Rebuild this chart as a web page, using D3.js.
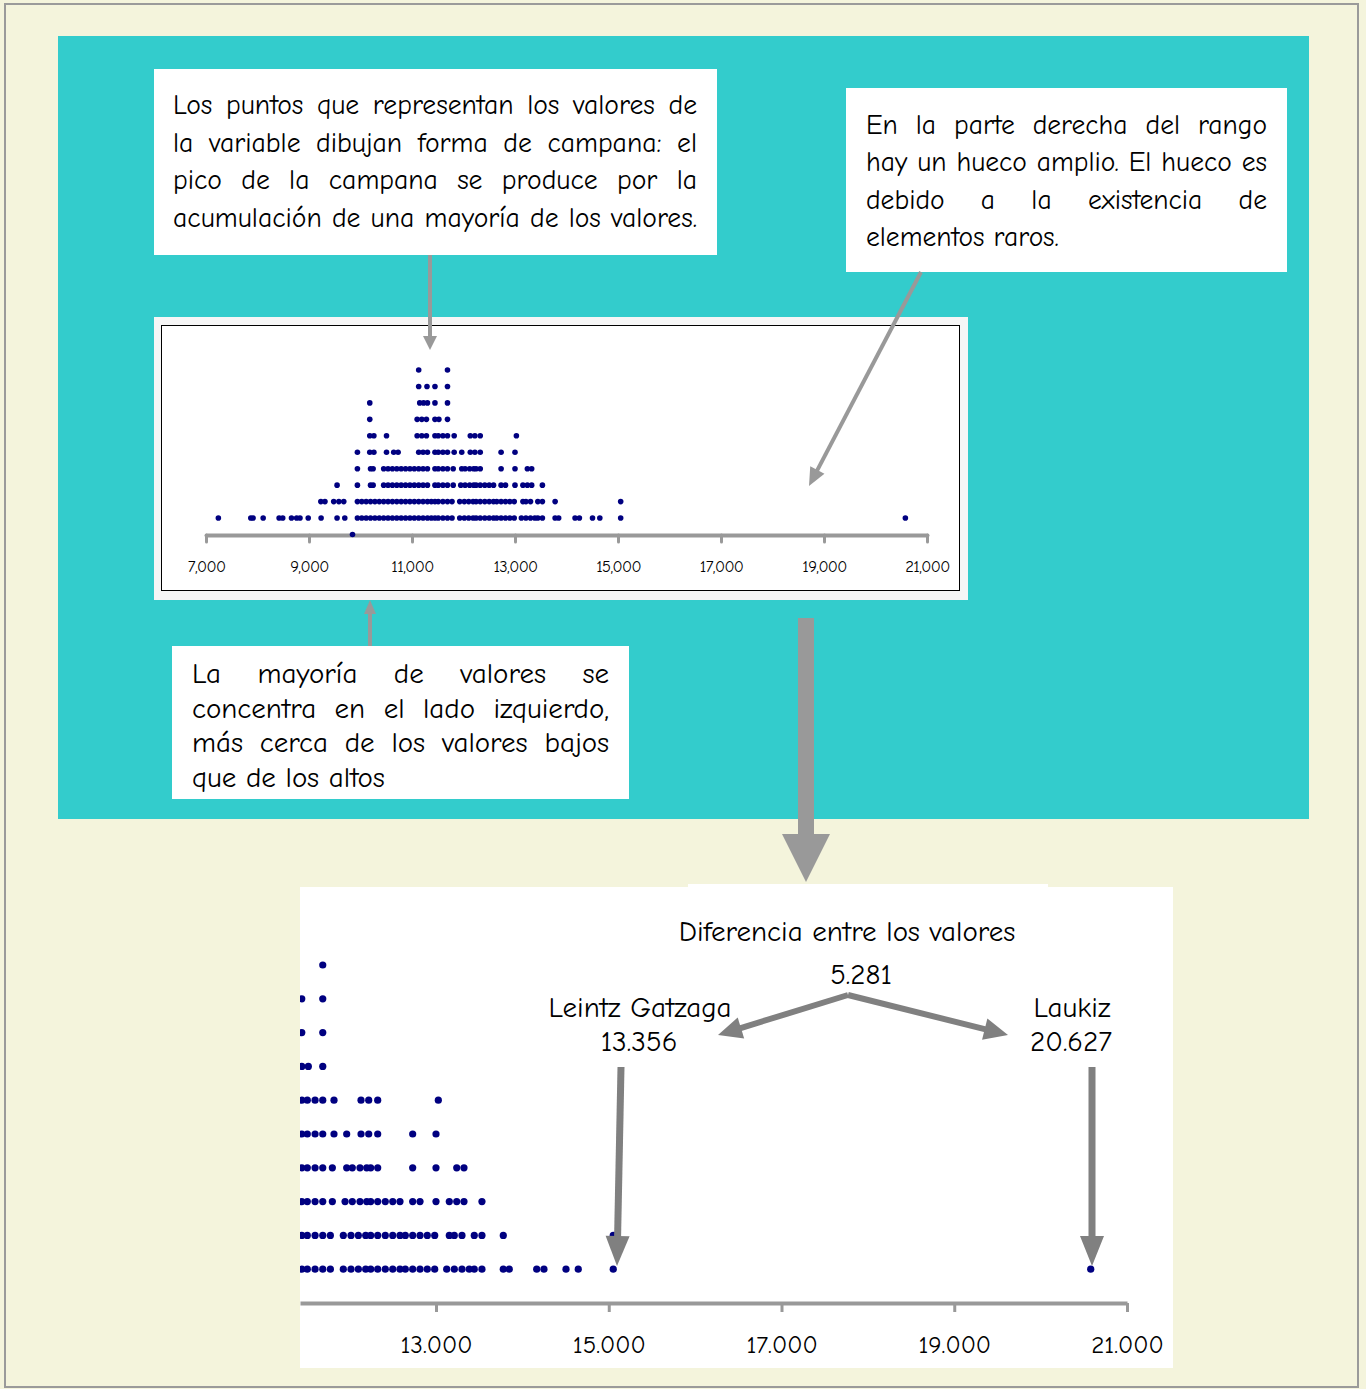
<!DOCTYPE html>
<html><head><meta charset="utf-8">
<script src="https://cdn.jsdelivr.net/npm/d3@7"></script>
<style>
html,body{margin:0;padding:0;background:#F4F4DC;}
svg{display:block;}
</style></head><body>
<svg id="c" width="1366" height="1389"></svg>
<script>
// ---------------- DATA ----------------
// Dot plot: each array holds the values of the dots stacked at that level (level 0 = on the axis)
const row0 = [9845];
const row1 = [7240, 7870, 7915, 8110, 8420, 8490, 8660, 8760, 8825, 8985, 9235, 9545, 9695,
  9940, 10025, 10110, 10195, 10280, 10365, 10450, 10535, 10620, 10705, 10790, 10875, 10960, 11045, 11130, 11215, 11300, 11375,
  11446, 11510, 11600, 11689, 11777, 11927, 12016, 12101, 12186, 12244, 12325, 12413, 12499, 12583, 12645, 12730, 12815, 12899, 12985,
  13124, 13212, 13301, 13385, 13443, 13532, 13779, 13848, 14166, 14250, 14505, 14647, 15052, 20580];
const row2 = [9230, 9310, 9480, 9580, 9675,
  9940, 10025, 10110, 10195, 10280, 10365, 10450, 10535, 10620, 10705, 10790, 10875, 10960, 11045, 11130, 11215, 11300, 11375,
  11446, 11510, 11600, 11689, 11777, 11927, 12016, 12101, 12186, 12244, 12325, 12413, 12499, 12583, 12645, 12730, 12815, 12899, 12985,
  13154, 13212, 13301, 13443, 13532, 13779, 15052];
const row3 = [9545, 9940, 10195, 10245, 10450, 10535, 10620, 10705, 10790, 10875, 10960, 11045, 11130, 11215, 11300,
  11446, 11510, 11600, 11689, 11800, 11947, 12031, 12120, 12198, 12244, 12325, 12413, 12499, 12583, 12730, 12815, 13000,
  13154, 13240, 13324, 13532];
const row4 = [9940, 10195, 10245, 10450, 10535, 10620, 10705, 10790, 10875, 10960, 11045, 11130, 11215, 11300,
  11446, 11510, 11600, 11689, 11800, 11966, 12031, 12120, 12198, 12244, 12325, 12730, 13000, 13240, 13324];
const row5 = [9940, 10180, 10260, 10505, 10645, 10730, 11130, 11215, 11300,
  11446, 11510, 11600, 11689, 11819, 11966, 12132, 12221, 12325, 12730, 13000];
const row6 = [10180, 10260, 10505, 11100, 11190, 11280, 11446, 11510, 11600, 11689, 11819, 12132, 12221, 12325, 13027];
const row7 = [10180, 11100, 11190, 11280, 11446, 11522, 11689];
const row8 = [10180, 11150, 11225, 11300, 11446, 11689];
const row9 = [11130, 11291, 11446, 11689];
const row10 = [11130, 11689];

const topTicks = [7000, 9000, 11000, 13000, 15000, 17000, 19000, 21000];
const bottomTicks = [13000, 15000, 17000, 19000, 21000];

const noteBell = ["Los puntos que representan los valores de",
  "la variable dibujan forma de campana: el",
  "pico de la campana se produce por la",
  "acumulación de una mayoría de los valores."];
const noteGap = ["En la parte derecha del rango",
  "hay un hueco amplio. El hueco es",
  "debido a la existencia de",
  "elementos raros."];
const noteLeft = ["La mayoría de valores se",
  "concentra en el lado izquierdo,",
  "más cerca de los valores bajos",
  "que de los altos"];
const diffTitle = "Diferencia entre los valores";
const diffValue = "5.281";
const minName = "Leintz Gatzaga", minValue = "13.356";
const maxName = "Laukiz", maxValue = "20.627";

// ---------------- DRAW ----------------
const FONT = '"Comic Sans MS","Comic Neue","Open Sans",sans-serif';
const svg = d3.select("#c");
const stackRows = [row0, row1, row2, row3, row4, row5, row6, row7, row8, row9, row10];
const dots = stackRows.flatMap((r, lvl) => r.map(v => ({v, lvl})));

// page background and frame
svg.append("rect").attr("x", 0).attr("y", 0).attr("width", 1366).attr("height", 1389).attr("fill", "#F4F4DC");
svg.append("rect").attr("x", 5).attr("y", 4).attr("width", 1353).attr("height", 1383)
  .attr("fill", "none").attr("stroke", "#9a9a9a").attr("stroke-width", 2);
// teal panel
svg.append("rect").attr("x", 58).attr("y", 36).attr("width", 1251).attr("height", 783).attr("fill", "#33CCCC");

// note boxes
const boxes = [
  {x: 154, y: 69, w: 563, h: 186},
  {x: 846, y: 88, w: 441, h: 184},
  {x: 172, y: 646, w: 457, h: 153}
];
boxes.forEach(b => svg.append("rect").attr("x", b.x).attr("y", b.y).attr("width", b.w).attr("height", b.h).attr("fill", "#fff"));

// top chart frame
svg.append("rect").attr("x", 154).attr("y", 317).attr("width", 814).attr("height", 283).attr("fill", "#f6f6f6");
svg.append("rect").attr("x", 161.5).attr("y", 325.5).attr("width", 798).attr("height", 265)
  .attr("fill", "#fff").attr("stroke", "#000").attr("stroke-width", 1);

// bottom white panel
svg.append("rect").attr("x", 300).attr("y", 887).attr("width", 873).attr("height", 481).attr("fill", "#fff");
svg.append("rect").attr("x", 688).attr("y", 884).attr("width", 360).attr("height", 60).attr("fill", "#fff");

// ---- top dot plot ----
const xTop = d3.scaleLinear().domain([7000, 21000]).range([206, 927]);
const yTop = d3.scaleLinear().domain([0, 10]).range([534.5, 370]);
const axTop = svg.append("g").attr("transform", "translate(0,535)")
  .call(d3.axisBottom(xTop).tickValues(topTicks).tickFormat(d3.format(","))
    .tickSize(7).tickSizeOuter(0).tickPadding(18));
axTop.attr("font-family", FONT);
axTop.select(".domain").attr("stroke", "#999").attr("stroke-width", 4).attr("stroke-linecap", "round");
axTop.selectAll(".tick line").attr("stroke", "#999").attr("stroke-width", 3).attr("stroke-linecap", "round");
axTop.selectAll(".tick text").attr("font-size", 16.5).attr("fill", "#000").attr("letter-spacing", -0.6);

svg.append("g").selectAll("circle").data(dots).join("circle")
  .attr("cx", d => xTop(d.v)).attr("cy", d => yTop(d.lvl)).attr("r", 2.8).attr("fill", "#000080");

// ---- bottom zoomed dot plot ----
const xBot0 = d3.scaleLinear().domain([13000, 21000]).range([436, 1127]);
const xBot = d3.scaleLinear().domain([xBot0.invert(300), 21000]).range([300, 1127]);
const yBot = d3.scaleLinear().domain([0, 10]).range([1303, 965]);
svg.append("clipPath").attr("id", "botClip").append("rect")
  .attr("x", 300).attr("y", 887).attr("width", 873).attr("height", 481);
const gBot = svg.append("g").attr("clip-path", "url(#botClip)");
const dotLocale = d3.formatLocale({decimal: ",", thousands: ".", grouping: [3], currency: ["", ""]});
const axBot = gBot.append("g").attr("transform", "translate(0,1303)")
  .call(d3.axisBottom(xBot).tickValues(bottomTicks).tickFormat(dotLocale.format(","))
    .tickSize(9).tickSizeOuter(0).tickPadding(23));
axBot.attr("font-family", FONT);
axBot.select(".domain").attr("stroke", "#999").attr("stroke-width", 4);
axBot.selectAll(".tick line").attr("stroke", "#999").attr("stroke-width", 3);
axBot.selectAll(".tick text").attr("font-size", 25).attr("fill", "#000");

gBot.append("g").selectAll("circle").data(dots).join("circle")
  .attr("cx", d => xBot(d.v)).attr("cy", d => yBot(d.lvl)).attr("r", 3.6).attr("fill", "#000080");

// ---- arrows ----
function arrow(x1, y1, x2, y2, w, headLen, headHalf, color) {
  const dx = x2 - x1, dy = y2 - y1, L = Math.hypot(dx, dy), ux = dx / L, uy = dy / L;
  const bx = x2 - ux * headLen, by = y2 - uy * headLen;
  svg.append("line").attr("x1", x1).attr("y1", y1).attr("x2", bx + ux * 2).attr("y2", by + uy * 2)
    .attr("stroke", color).attr("stroke-width", w);
  svg.append("polygon").attr("points",
    [[x2, y2], [bx - uy * headHalf, by + ux * headHalf], [bx + uy * headHalf, by - ux * headHalf]].map(p => p.join(",")).join(" "))
    .attr("fill", color);
}
arrow(430, 255, 430, 350, 4, 14, 7, "#999");
arrow(921, 272, 809, 486, 4, 18, 8, "#999");
arrow(370, 646, 370, 600, 4, 14, 6, "#999");
arrow(806, 618, 806, 882, 16, 48, 24, "#999");
arrow(848, 995, 718, 1035, 6, 24, 11, "#808080");
arrow(848, 995, 1008, 1035, 6, 24, 11, "#808080");
arrow(621, 1067, 617, 1266, 7, 30, 12, "#808080");
arrow(1092, 1067, 1092, 1266, 7, 30, 12, "#808080");

// ---- texts ----
const tmp = svg.append("text").attr("x", -2000).attr("y", -2000).attr("font-family", FONT);
function measure(str, size) { tmp.attr("font-size", size).text(str); return tmp.node().getComputedTextLength(); }
function note(lines, x0, x1, base, pitch, size, justifyLast, clipId) {
  const W = x1 - x0;
  let s = size;
  const mx = d3.max(lines, l => measure(l, s));
  if (mx > W * 0.99) s = s * W * 0.99 / mx;
  const g = svg.append("g").attr("font-family", FONT).attr("font-size", s).attr("fill", "#000");
  if (clipId) g.attr("clip-path", `url(#${clipId})`);
  lines.forEach((line, i) => {
    const y = base + i * pitch;
    const last = i === lines.length - 1;
    const t = g.append("text").attr("y", y);
    if (last && !justifyLast) { t.attr("x", x0).text(line); return; }
    const words = line.split(" ");
    const ws = words.map(w => measure(w, s));
    const gap = (W - d3.sum(ws)) / (words.length - 1);
    let x = x0;
    words.forEach((w, j) => {
      t.append("tspan").attr("x", x).text(j < words.length - 1 ? w + " " : w);
      x += ws[j] + gap;
    });
  });
}
svg.append("clipPath").attr("id", "clip3").append("rect").attr("x", 172).attr("y", 646).attr("width", 457).attr("height", 153);
note(noteBell, 173, 697, 114, 37.5, 30, true);
note(noteGap, 866, 1267, 134, 37.3, 29, false);
note(noteLeft, 192, 609, 683, 34.5, 29, false, "clip3");

const gLab = svg.append("g").attr("font-family", FONT).attr("font-size", 29).attr("fill", "#000").attr("text-anchor", "middle");
gLab.append("text").attr("x", 847).attr("y", 941).text(diffTitle);
gLab.append("text").attr("x", 861).attr("y", 984).text(diffValue);
gLab.append("text").attr("x", 640).attr("y", 1017).text(minName);
gLab.append("text").attr("x", 639).attr("y", 1051).text(minValue);
gLab.append("text").attr("x", 1072).attr("y", 1017).text(maxName);
gLab.append("text").attr("x", 1071).attr("y", 1051).text(maxValue);
tmp.remove();
</script>
</body></html>
